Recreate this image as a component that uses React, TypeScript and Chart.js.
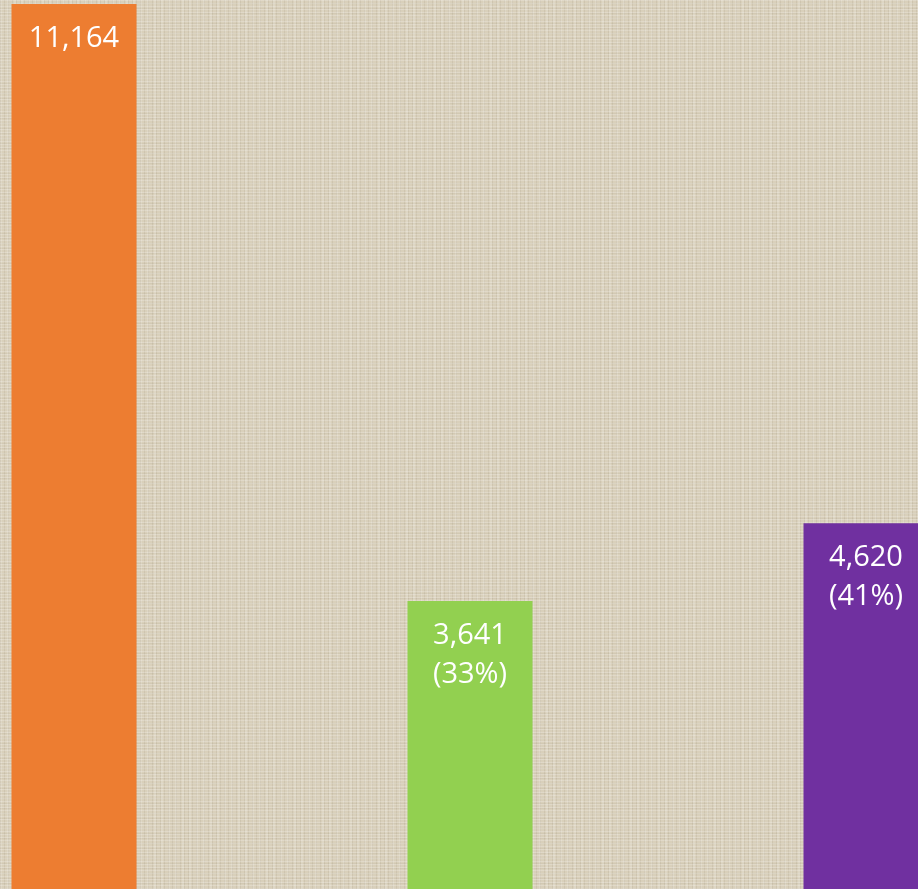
import React, { useEffect, useRef } from "react";
import { Chart, registerables } from "chart.js";

Chart.register(...registerables);

const categories = ["A", "B", "C"];
const values = [11164, 3641, 4620];
const barColors = ["#ED7D31", "#92D050", "#7030A0"];
const baseValue = values[0];

const labelPlugin = {
  id: "barLabels",
  afterDatasetsDraw(chart: any) {
    const ctx = chart.ctx;
    const meta = chart.getDatasetMeta(0);
    ctx.save();
    ctx.fillStyle = "#ffffff";
    ctx.font = "29px 'Open Sans', 'Liberation Sans', sans-serif";
    ctx.textAlign = "center";
    ctx.textBaseline = "alphabetic";
    meta.data.forEach((bar: any, i: number) => {
      const v = values[i];
      const x = bar.x;
      const top = bar.y;
      ctx.fillText(v.toLocaleString("en-US"), x, top + 43);
      if (i > 0) {
        const pct = Math.round((v / baseValue) * 100);
        ctx.fillText("(" + pct + "%)", x, top + 82);
      }
    });
    ctx.restore();
  },
};

export default function App() {
  const ref = useRef<HTMLCanvasElement | null>(null);
  useEffect(() => {
    if (!ref.current) return;
    const chart = new Chart(ref.current, {
      type: "bar",
      data: {
        labels: categories,
        datasets: [
          {
            data: values,
            backgroundColor: barColors,
            borderWidth: 0,
            categoryPercentage: 1,
            barPercentage: 125 / 396,
          },
        ],
      },
      options: {
        animation: false,
        responsive: false,
        maintainAspectRatio: false,
        layout: { padding: 0 },
        plugins: { legend: { display: false }, tooltip: { enabled: false } },
        scales: {
          x: { display: false },
          y: { display: false, min: 0, max: 11214 },
        },
      },
      plugins: [labelPlugin],
    });
    return () => chart.destroy();
  }, []);

  return (
    <div
      style={{
        position: "fixed",
        left: 0,
        top: 0,
        width: 918,
        height: 889,
        overflow: "hidden",
        backgroundColor: "#d9d0bb",
        backgroundImage:
          "repeating-linear-gradient(0deg, rgba(255,255,255,0.2) 0px, rgba(255,255,255,0.2) 1px, transparent 1px, transparent 3px), repeating-linear-gradient(90deg, rgba(100,85,60,0.09) 0px, rgba(100,85,60,0.09) 1px, transparent 1px, transparent 4px), repeating-linear-gradient(90deg, rgba(255,255,255,0.14) 0px, rgba(255,255,255,0.14) 2px, transparent 2px, transparent 7px), repeating-linear-gradient(0deg, rgba(100,85,60,0.06) 0px, rgba(100,85,60,0.06) 1px, transparent 1px, transparent 5px)",
      }}
    >
      <canvas
        ref={ref}
        width={1188}
        height={890}
        style={{ position: "absolute", left: -124, top: 0, width: 1188, height: 890 }}
      />
    </div>
  );
}
